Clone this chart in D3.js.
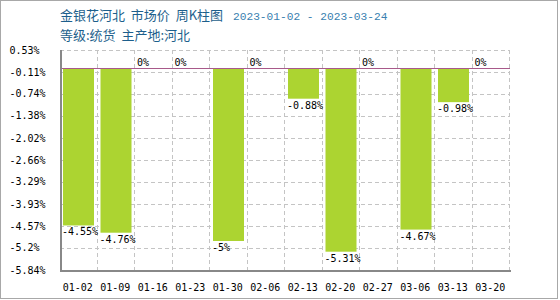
<!DOCTYPE html>
<html>
<head>
<meta charset="utf-8">
<script src="https://cdn.jsdelivr.net/npm/d3@7"></script>
<style>
body { margin: 0; background: #fff; }
text { white-space: pre; }
</style>
</head>
<body>
<script>
var width = 560;
var height = 300;

// data
var categories = ["01-02", "01-09", "01-16", "01-23", "01-30", "02-06",
                  "02-13", "02-20", "02-27", "03-06", "03-13", "03-20"];
var values = [-4.55, -4.76, 0, 0, -5, 0, -0.88, -5.31, 0, -4.67, -0.98, 0];
var valueLabels = ["-4.55%", "-4.76%", "0%", "0%", "-5%", "0%",
                   "-0.88%", "-5.31%", "0%", "-4.67%", "-0.98%", "0%"];
var tickValues = [0.53, -0.11, -0.74, -1.38, -2.02, -2.66, -3.29, -3.93, -4.57, -5.2, -5.84];
var tickLabels = ["0.53%", "-0.11%", "-0.74%", "-1.38%", "-2.02%", "-2.66%",
                  "-3.29%", "-3.93%", "-4.57%", "-5.2%", "-5.84%"];

var plotLeft = 60, plotRight = 510, plotTop = 50, plotBottom = 270;

var svg = d3.select("body")
    .append("svg")
    .attr("width", width)
    .attr("height", height);

svg.append("rect")
    .attr("x", 0.5)
    .attr("y", 0.5)
    .attr("width", 557)
    .attr("height", 298)
    .attr("fill", "#fff")
    .attr("stroke", "#a8a8a8");

// title
var title = svg.append("text")
    .attr("x", 60)
    .attr("y", 20)
    .attr("font-family", "Noto Sans CJK SC")
    .attr("font-size", 13)
    .attr("fill", "#1d5f8c");
title.append("tspan").text("金银花河北  市场价  周K柱图");
title.append("tspan")
    .attr("x", 233)
    .attr("font-family", "Liberation Mono")
    .attr("font-size", 11.2)
    .attr("fill", "#3a7fb0")
    .text("2023-01-02 - 2023-03-24");

svg.append("text")
    .attr("x", 60)
    .attr("y", 40)
    .attr("font-family", "Noto Sans CJK SC")
    .attr("font-size", 13)
    .attr("fill", "#1d5f8c")
    .text("等级:统货  主产地:河北");

var x = d3.scaleBand()
    .domain(categories)
    .range([plotLeft, plotRight])
    .paddingInner(0)
    .paddingOuter(0);

var y = d3.scaleLinear()
    .domain([-5.84, 0.53])
    .range([plotBottom, plotTop]);

// grid
var grid = svg.append("g")
    .attr("stroke", "#c4c4c4")
    .attr("stroke-dasharray", "4,3")
    .attr("stroke-width", 1);

grid.selectAll(".hg")
    .data(tickValues.slice(0, -1))
    .enter().append("line")
    .attr("x1", plotLeft)
    .attr("x2", plotRight)
    .attr("y1", function(d) { return Math.round(y(d)) + 0.5; })
    .attr("y2", function(d) { return Math.round(y(d)) + 0.5; });

grid.selectAll(".vg")
    .data(categories)
    .enter().append("line")
    .attr("x1", function(d) { return Math.round(x(d) + x.bandwidth()) - 0.5; })
    .attr("x2", function(d) { return Math.round(x(d) + x.bandwidth()) - 0.5; })
    .attr("y1", plotTop)
    .attr("y2", plotBottom);

// bars
svg.selectAll(".bar")
    .data(values)
    .enter().append("rect")
    .attr("x", function(d, i) { return x(categories[i]) + 3; })
    .attr("y", y(0))
    .attr("width", 31)
    .attr("height", function(d) { return y(d) - y(0); })
    .attr("fill", "#acd431");

// zero line
svg.append("line")
    .attr("x1", plotLeft)
    .attr("x2", plotRight)
    .attr("y1", Math.round(y(0)) + 0.5)
    .attr("y2", Math.round(y(0)) + 0.5)
    .attr("stroke", "#a8598a")
    .attr("stroke-width", 1);

// axes lines
svg.append("line")
    .attr("x1", plotLeft + 1)
    .attr("x2", plotLeft + 1)
    .attr("y1", plotTop)
    .attr("y2", plotBottom + 1)
    .attr("stroke", "#888")
    .attr("stroke-width", 2);

svg.append("line")
    .attr("x1", plotLeft)
    .attr("x2", plotRight + 1)
    .attr("y1", plotBottom + 1)
    .attr("y2", plotBottom + 1)
    .attr("stroke", "#888")
    .attr("stroke-width", 2);

// value labels
svg.selectAll(".vl")
    .data(values)
    .enter().append("text")
    .attr("x", function(d, i) { return x(categories[i]) + 2; })
    .attr("y", function(d) { return d < 0 ? y(d) + 10 : y(0) - 2; })
    .attr("font-family", "DejaVu Sans Mono")
    .attr("font-size", 10)
    .attr("fill", "#000")
    .text(function(d, i) { return valueLabels[i]; });

// y tick labels
svg.selectAll(".yl")
    .data(tickValues)
    .enter().append("text")
    .attr("x", 9.5)
    .attr("y", function(d) { return y(d) + 3.5; })
    .attr("font-family", "DejaVu Sans Mono")
    .attr("font-size", 10)
    .attr("fill", "#000")
    .text(function(d, i) { return tickLabels[i]; });

// x labels
svg.selectAll(".xl")
    .data(categories)
    .enter().append("text")
    .attr("x", function(d) { return x(d) + x.bandwidth() / 2 - 1; })
    .attr("y", 291)
    .attr("text-anchor", "middle")
    .attr("font-family", "DejaVu Sans Mono")
    .attr("font-size", 10)
    .attr("fill", "#000")
    .text(function(d) { return d; });
</script>
</body>
</html>
